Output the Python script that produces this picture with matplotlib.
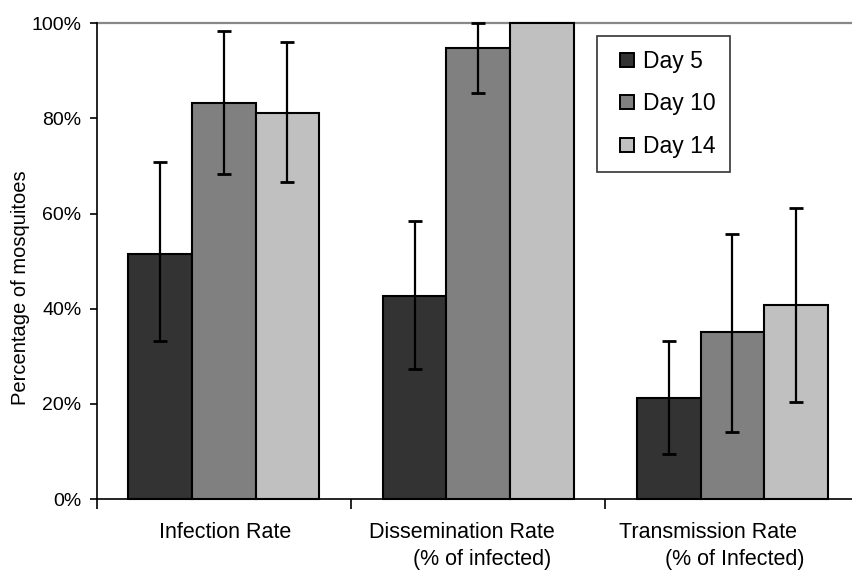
import matplotlib
matplotlib.use("Agg")
import matplotlib.pyplot as plt
from matplotlib.lines import Line2D
import numpy as np

plt.rcParams["font.family"] = ["Liberation Sans", "DejaVu Sans"]

# Category labels (two lines where the original label wraps)
categories = [
    ["Infection Rate"],
    ["Dissemination Rate", "(% of infected)"],
    ["Transmission Rate", "(% of Infected)"],
]
series = ["Day 5", "Day 10", "Day 14"]

# Percentages per series, one value per category
day5 = [51.6, 42.7, 21.3]
day10 = [83.3, 94.9, 35.2]
day14 = [81.2, 100.0, 40.8]

# Confidence interval bounds (lower, upper); None = no error bar drawn
day5_low = [33.2, 27.3, 9.5]
day5_high = [70.8, 58.4, 33.2]
day10_low = [68.3, 85.4, 14.1]
day10_high = [98.3, 100.0, 55.7]
day14_low = [66.6, None, 20.3]
day14_high = [96.0, None, 61.2]

yticks = [0, 20, 40, 60, 80, 100]
ytick_labels = ["0%", "20%", "40%", "60%", "80%", "100%"]

colors = ["#333333", "#808080", "#c0c0c0"]

W, H = 852, 573
fig = plt.figure(figsize=(W / 100, H / 100), dpi=100)
ax = fig.add_axes([96.7 / W, 1 - 499 / H, (859.6 - 96.7) / W, (499 - 23.3) / H])

values = [day5, day10, day14]
lows = [day5_low, day10_low, day14_low]
highs = [day5_high, day10_high, day14_high]

centers = np.arange(len(categories)) + 0.5
width = 0.25
offsets = [-width, 0.0, width]

for vals, lo, hi, off, col, name in zip(values, lows, highs, offsets, colors, series):
    x = centers + off
    ax.bar(x, vals, width=width, color=col, edgecolor="black", linewidth=1.5,
           label=name, clip_on=False, zorder=2)
    for xi, v, l, h in zip(x, vals, lo, hi):
        if l is None:
            continue
        ax.errorbar(xi, v, yerr=[[v - l], [h - v]], fmt="none", ecolor="black",
                    elinewidth=1.6, capsize=5, capthick=2, clip_on=False, zorder=3)

ax.set_xlim(0, len(categories))
ax.set_ylim(0, 100)

# top border line at 100%
ax.axhline(100, color="#888888", linewidth=1.6, zorder=1, clip_on=False)

for s in ["top", "right"]:
    ax.spines[s].set_visible(False)
ax.spines["left"].set_linewidth(1.2)
ax.spines["bottom"].set_linewidth(1.2)

ax.set_yticks(yticks)
ax.set_yticklabels(ytick_labels, fontsize=14)
ax.tick_params(axis="y", direction="out", length=5, width=1.2, pad=6)

ax.set_xticks(np.arange(len(categories) + 1))
ax.set_xticklabels([])
ax.tick_params(axis="x", direction="out", length=7, width=1.2)

# category labels, one annotation per line
line_offsets = [[1], [-16.5, 4.3], [-24, 2]]
for c, lines, offs in zip(centers, categories, line_offsets):
    for i, (txt, dx) in enumerate(zip(lines, offs)):
        ax.annotate(txt, xy=(c, 0), xycoords=("data", "axes fraction"),
                    xytext=(dx * 0.72, -(33.5 + 27.5 * i) * 0.72),
                    textcoords="offset points", ha="center", va="center",
                    fontsize=15.5, annotation_clip=False)

ax.set_ylabel("Percentage of mosquitoes", fontsize=14.5)
ax.yaxis.set_label_coords(-0.087, 0.444)

handles = [Line2D([], [], linestyle="none", marker="s", markersize=9.5,
                  markerfacecolor=c, markeredgecolor="black", markeredgewidth=1.4)
           for c in colors]
leg = ax.legend(handles, series, loc="upper left",
                bbox_to_anchor=(597.3 / W, 1 - 36 / H), bbox_transform=fig.transFigure,
                borderaxespad=0, fontsize=16.5, frameon=True, fancybox=False,
                handlelength=1.4, handletextpad=0.0,
                labelspacing=0.86, borderpad=0.6)
leg.get_frame().set_edgecolor("black")
leg.get_frame().set_linewidth(1.2)

fig.savefig("out.png", dpi=100)
